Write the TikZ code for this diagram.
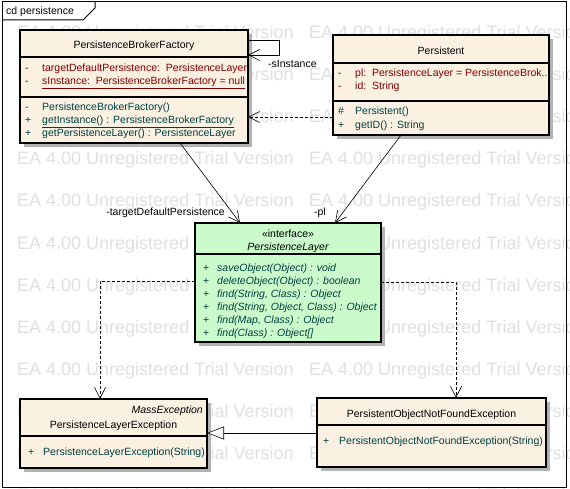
\documentclass[tikz,border=0pt]{standalone}
\usepackage{fontspec}
\setmainfont{Liberation Sans}
\usetikzlibrary{positioning,calc,arrows.meta,shadows}

\definecolor{classfill}{RGB}{250,241,227}
\definecolor{ifacefill}{RGB}{203,250,203}
\definecolor{attrcol}{RGB}{128,0,0}
\definecolor{opcol}{RGB}{0,64,64}
\definecolor{wmcol}{RGB}{224,224,224}
\definecolor{shadowcol}{RGB}{178,178,178}

\tikzset{
    umlbox/.style={draw, line width=1.1pt, fill=classfill, inner sep=0pt, outer sep=0pt, anchor=north west,
        general shadow={fill=shadowcol, shadow xshift=4pt, shadow yshift=-4pt}},
    ifacebox/.style={umlbox, fill=ifacefill},
    divider/.style={line width=1.1pt},
    cname/.style={anchor=base, inner sep=0pt, font=\fontsize{10.5}{12}\selectfont},
    attr/.style={anchor=base west, inner sep=0pt, text=attrcol, font=\fontsize{10.5}{12}\selectfont},
    oper/.style={attr, text=opcol},
    role/.style={anchor=base east, inner sep=0pt, font=\fontsize{10.5}{12}\selectfont},
    assoc/.style={line width=0.6pt, -{Straight Barb[length=11pt,width=11pt]}},
    dep/.style={assoc, dash pattern=on 3pt off 2pt},
    gen/.style={line width=0.6pt, -{Triangle[length=17pt,width=13pt,fill=white]}},
    wmark/.style={anchor=base west, inner sep=0pt, text=wmcol, font=\fontsize{18}{20}\selectfont}
}

\begin{document}
\begin{tikzpicture}[x=1pt,y=-1pt]
    \useasboundingbox[fill=white] (0,0) rectangle (570,489);

    % trial watermark
    \begin{scope}
        \clip (0,0) rectangle (570,489);
        \foreach \r in {0,...,11}
            \foreach \c in {17,309}
                \node[wmark] (wm-\r-\c) at (\c, 39+42*\r) {EA 4.00 Unregistered Trial Version};
    \end{scope}

    % diagram frame
    \draw[line width=1pt] (2,2) rectangle (566,487);
    \draw[line width=1pt] (2,20) -- (83,20) -- (95,8) -- (95,2);
    \node[cname, anchor=base west] (title) at (6,15) {cd persistence};

    % PersistenceBrokerFactory
    \node[umlbox, minimum width=228pt, minimum height=113pt] (pbf) at (20,30) {};
    \draw[divider] (pbf.west |- 0,57) -- (pbf.east |- 0,57);
    \draw[divider] (pbf.west |- 0,97) -- (pbf.east |- 0,97);
    \node[cname] (pbf-name) at (pbf.north |- 0,49) {PersistenceBrokerFactory};
    \node[attr] (pbf-a1) at (25,72) {\makebox[17pt][l]{-}targetDefaultPersistence:\ \ PersistenceLayer};
    \node[attr] (pbf-a2) at (25,85) {\makebox[17pt][l]{-}\underline{sInstance:\ \ PersistenceBrokerFactory = null}};
    \node[oper] (pbf-o1) at (25,111) {\makebox[17pt][l]{-}PersistenceBrokerFactory()};
    \node[oper] (pbf-o2) at (25,124) {\makebox[17pt][l]{+}\underline{getInstance() : PersistenceBrokerFactory}};
    \node[oper] (pbf-o3) at (25,137) {\makebox[17pt][l]{+}getPersistenceLayer() : PersistenceLayer};

    % Persistent
    \node[umlbox, minimum width=216pt, minimum height=100pt] (pers) at (333,35) {};
    \draw[divider] (pers.west |- 0,63) -- (pers.east |- 0,63);
    \draw[divider] (pers.west |- 0,101) -- (pers.east |- 0,101);
    \node[cname] (pers-name) at (pers.north |- 0,55) {Persistent};
    \node[attr] (pers-a1) at (338,77) {\makebox[17pt][l]{-}pl:\ \ PersistenceLayer = PersistenceBrok...};
    \node[attr] (pers-a2) at (338,90) {\makebox[17pt][l]{-}id:\ \ String};
    \node[oper] (pers-o1) at (338,115) {\makebox[17pt][l]{\#}Persistent()};
    \node[oper] (pers-o2) at (338,129) {\makebox[17pt][l]{+}getID() : String};

    % PersistenceLayer interface
    \node[ifacebox, minimum width=186pt, minimum height=119pt] (pl) at (195,223) {};
    \draw[divider] (pl.west |- 0,254) -- (pl.east |- 0,254);
    \node[cname] (pl-st) at (pl.north |- 0,237) {«interface»};
    \node[cname, font=\fontsize{10.5}{12}\selectfont\itshape] (pl-name) at (pl.north |- 0,251) {PersistenceLayer};
    \foreach \t [count=\i] in {{saveObject(Object) : void}, {deleteObject(Object) : boolean},
        {find(String, Class) : Object}, {find(String, Object, Class) : Object},
        {find(Map, Class) : Object}, {find(Class) : Object[]}}
        \node[oper] (pl-o\i) at (203, 258+13*\i) {\makebox[14pt][l]{+}\textit{\t}};

    % PersistenceLayerException
    \node[umlbox, minimum width=187pt, minimum height=69pt] (ple) at (20,399) {};
    \draw[divider] (ple.west |- 0,436) -- (ple.east |- 0,436);
    \node[role, font=\fontsize{10.5}{12}\selectfont\itshape] (ple-st) at (203,413) {MassException};
    \node[cname] (ple-name) at (ple.north |- 0,428) {PersistenceLayerException};
    \node[oper] (ple-o1) at (28,455) {\makebox[15pt][l]{+}PersistenceLayerException(String)};

    % PersistentObjectNotFoundException
    \node[umlbox, minimum width=229pt, minimum height=69pt] (ponf) at (317,398) {};
    \draw[divider] (ponf.west |- 0,425) -- (ponf.east |- 0,425);
    \node[cname] (ponf-name) at (ponf.north |- 0,417) {PersistentObjectNotFoundException};
    \node[oper] (ponf-o1) at (323,444) {\makebox[16pt][l]{+}PersistentObjectNotFoundException(String)};

    % connectors
    \draw[assoc] (pbf.east |- 0,40) -| (279,55) -- (pbf.east |- 0,55);
    \node[role, anchor=base west] (r-sinst) at (268,68) {-sInstance};
    \draw[dep] (pers.west |- 0,117) -- (pbf.east |- 0,117);
    \draw[assoc] (pbf.south -| 180,0) -- (pl.north -| 240,0);
    \draw[assoc] (pers.south -| 401,0) -- (pl.north -| 335,0);
    \node[role] (r-target) at (225,215) {-targetDefaultPersistence};
    \node[role] (r-pl) at (326,215) {-pl};
    \draw[dep] (pl.west |- 0,281) -| (ple.north -| 100,0);
    \draw[dep] (pl.east |- 0,282) -| (ponf.north -| 456,0);
    \draw[gen] (ponf.west |- 0,433) -- (ple.east |- 0,433);
\end{tikzpicture}
\end{document}
